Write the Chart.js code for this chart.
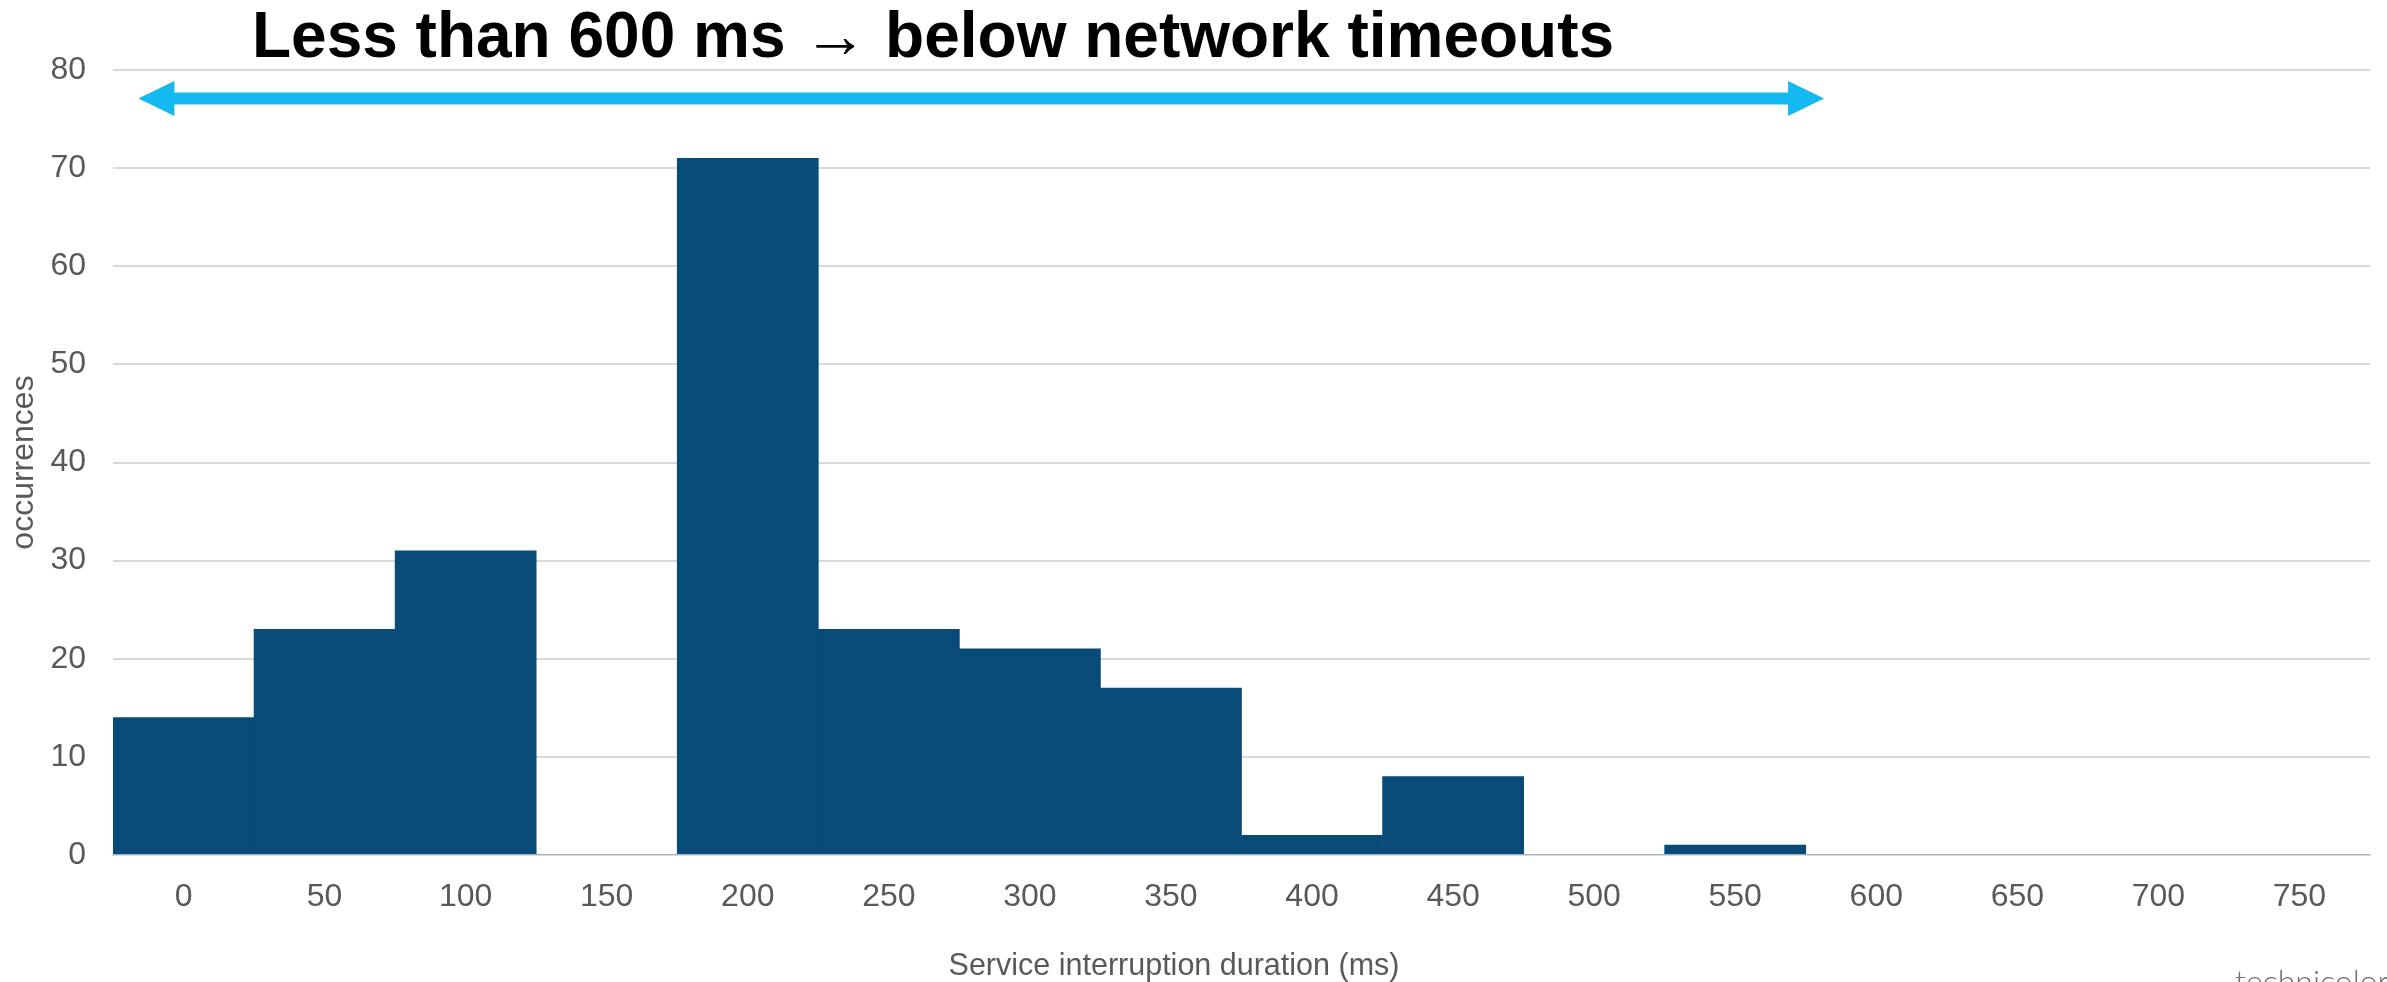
<!DOCTYPE html>
<html>
<head>
<meta charset="utf-8">
<title>Service interruption duration</title>
<style>
  html, body { margin: 0; padding: 0; background: #ffffff; overflow: hidden; }
  #wrap { width: 2387px; height: 982px; position: relative; }
</style>
<script src="https://cdn.jsdelivr.net/npm/chart.js@4.4.1/dist/chart.umd.min.js"></script>
</head>
<body>
<div id="wrap"><canvas id="chart" width="2387" height="982"></canvas></div>
<script>
// Histogram bins (ms) and how many interruptions fell in each
const durationBins = ['0', '50', '100', '150', '200', '250', '300', '350', '400', '450', '500', '550', '600', '650', '700', '750'];
const occurrences = [14, 23, 31, 0, 71, 23, 21, 17, 2, 8, 0, 1, 0, 0, 0, 0];
const countTicks = [0, 10, 20, 30, 40, 50, 60, 70, 80];

const headlineParts = ['Less than 600 ms ', '\u2192', ' below network timeouts'];
const xTitle = 'Service interruption duration (ms)';
const yTitle = 'occurrences';
const brand = 'technicolor';

const FONT = '"Liberation Sans", Arial, sans-serif';
const BAR = '#094b78';
const GRID = '#d9d9d9';
const TEXT = '#595959';
const CYAN = '#13b9f0';

// Headline, span arrow, axis caption and brand mark
const overlay = {
  id: 'overlay',
  afterDatasetsDraw(chart) {
    const { ctx, scales: { x, y } } = chart;
    // double-headed arrow over the sub-600 ms range, placed in bin/count units
    const x0 = x.getPixelForValue(-0.32);
    const x1 = x.getPixelForValue(11.63);
    const yc = y.getPixelForValue(77.1);
    const shaft = 6, headLen = 36, headHalf = 17.5;
    ctx.save();
    ctx.fillStyle = CYAN;
    ctx.beginPath();
    ctx.moveTo(x0, yc);
    ctx.lineTo(x0 + headLen, yc - headHalf);
    ctx.lineTo(x0 + headLen, yc - shaft);
    ctx.lineTo(x1 - headLen, yc - shaft);
    ctx.lineTo(x1 - headLen, yc - headHalf);
    ctx.lineTo(x1, yc);
    ctx.lineTo(x1 - headLen, yc + headHalf);
    ctx.lineTo(x1 - headLen, yc + shaft);
    ctx.lineTo(x0 + headLen, yc + shaft);
    ctx.lineTo(x0 + headLen, yc + headHalf);
    ctx.closePath();
    ctx.fill();
    ctx.restore();
  },
  afterDraw(chart) {
    const { ctx } = chart;
    ctx.save();
    ctx.textBaseline = 'alphabetic';
    ctx.textAlign = 'left';

    // headline: bold words with a lighter arrow glyph between them
    const boldFont = 'bold 64px ' + FONT;
    const arrowFont = '64px "Liberation Serif", "Times New Roman", serif';
    ctx.font = boldFont;
    const wL = ctx.measureText(headlineParts[0]).width;
    const wR = ctx.measureText(headlineParts[2]).width;
    ctx.font = arrowFont;
    const wA = ctx.measureText(headlineParts[1]).width;
    let hx = 933 - (wL + wA + wR) / 2;
    ctx.fillStyle = '#000000';
    ctx.font = boldFont;
    ctx.fillText(headlineParts[0], hx, 56.5);
    hx += wL;
    ctx.font = arrowFont;
    ctx.fillText(headlineParts[1], hx, 56.5);
    hx += wA;
    ctx.font = boldFont;
    ctx.fillText(headlineParts[2], hx, 56.5);

    ctx.fillStyle = TEXT;
    ctx.font = '30.5px ' + FONT;
    ctx.textAlign = 'center';
    ctx.fillText(xTitle, 1174, 975);

    ctx.fillStyle = '#6e6e6e';
    ctx.font = '300 32px Lato, sans-serif';
    ctx.textAlign = 'left';
    ctx.fillText(brand, 2235, 993);
    ctx.restore();
  }
};

new Chart(document.getElementById('chart'), {
  type: 'bar',
  data: {
    labels: durationBins,
    datasets: [{
      data: occurrences,
      backgroundColor: BAR,
      borderWidth: 0,
      barPercentage: 1.0,
      categoryPercentage: 1.0
    }]
  },
  options: {
    responsive: false,
    animation: false,
    devicePixelRatio: 1,
    layout: { padding: { top: 70, right: 17, left: 0, bottom: 0 } },
    plugins: {
      legend: { display: false },
      tooltip: { enabled: false }
    },
    scales: {
      x: {
        grid: { display: false, drawTicks: false },
        border: { display: true, color: GRID, width: 2 },
        ticks: {
          color: TEXT,
          font: { family: FONT, size: 32 },
          padding: 23,
          autoSkip: false,
          maxRotation: 0
        },
        title: { display: false },
        afterFit(scale) { scale.height = 127; }
      },
      y: {
        min: 0,
        max: 80,
        afterBuildTicks(scale) { scale.ticks = countTicks.map(v => ({ value: v })); },
        grid: { color: GRID, lineWidth: 2, drawTicks: false },
        border: { display: false },
        ticks: {
          color: TEXT,
          font: { family: FONT, size: 32 },
          padding: 27
        },
        title: {
          display: true,
          text: yTitle,
          color: TEXT,
          font: { family: FONT, size: 32 },
          padding: { top: 5, bottom: 0 }
        },
        afterFit(scale) { scale.width = 113; }
      }
    }
  },
  plugins: [overlay]
});
</script>
</body>
</html>
